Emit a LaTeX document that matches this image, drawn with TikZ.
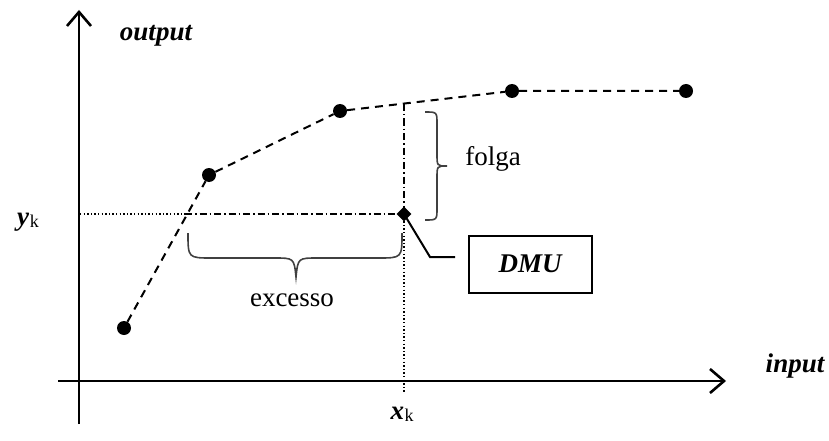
\documentclass[tikz,border=0pt]{standalone}
\usepackage{fontspec}
\setmainfont{Liberation Serif}
\usetikzlibrary{arrows.meta,shapes.geometric}
\tikzset{
  axis/.style={line width=2.6pt,-{Straight Barb[length=14pt,width=24pt,line width=2.6pt]}},
  frontier/.style={line width=2pt,dash pattern=on 8pt off 6pt},
  dotpt/.style={circle,fill=black,inner sep=0pt,minimum size=14pt},
  guide/.style={line width=1.4pt,dash pattern=on 1.4pt off 2.2pt},
  dashdotline/.style={line width=1.5pt,dash pattern=on 7pt off 3pt on 1.5pt off 3pt},
  bracestyle/.style={line width=1.6pt,draw=black!75},
  lbl/.style={font=\fontsize{27}{30}\selectfont,inner sep=0pt},
  axlbl/.style={font=\fontsize{27}{30}\selectfont\bfseries\itshape,inner sep=0pt},
  dmubox/.style={draw,line width=2pt,minimum width=123pt,minimum height=57pt,inner sep=0pt}
}
\begin{document}
\begin{tikzpicture}[x=1pt,y=-1pt]
\useasboundingbox (0,0) rectangle (829,441);

% axes
\coordinate (yb) at (79,424);
\coordinate (yt) at (79,10);
\coordinate (xl) at (58,381);
\coordinate (xr) at (726,381);
\draw[axis] (yb) -- (yt);
\draw[axis] (xl) -- (xr);

% axis labels
\node[axlbl] (outlbl) at (156,36) {output};
\node[axlbl] (inlbl) at (795,366) {input};
\node[lbl] (yk) at (28,222) {\textbf{\textit{y}}\kern0.5pt\raisebox{-2pt}{\fontsize{18}{20}\selectfont k}};
\node[lbl] (xk) at (402,414) {\textbf{\textit{x}}\kern0.5pt\raisebox{-2pt}{\fontsize{18}{20}\selectfont k}};

% efficient frontier points
\node[dotpt] (p1) at (124,328) {};
\node[dotpt] (p2) at (209,175) {};
\node[dotpt] (p3) at (340,111) {};
\node[dotpt] (p4) at (512,91) {};
\node[dotpt] (p5) at (686,91) {};
\draw[frontier] (p1) -- (p2) -- (p3) -- (p4) -- (p5);

% DMU under evaluation
\node[diamond,fill=black,inner sep=0pt,minimum size=15pt] (dmu) at (404,214) {};
\coordinate (ftop) at (404,104);
\coordinate (xfoot) at (404,392);
\coordinate (yfoot) at (80,214);
\coordinate (hcross) at (185,214);
\draw[dashdotline] (ftop) -- (dmu.center);
\draw[guide] (dmu.center) -- (xfoot);
\draw[guide] (yfoot) -- (hcross);
\draw[dashdotline] (hcross) -- (dmu.center);

% label box and its leader
\node[dmubox] (box) at (530,264) {\fontsize{27}{30}\selectfont\bfseries\itshape DMU};
\coordinate (bend) at (430,257);
\coordinate (lend) at (455,257);
\draw[line width=2pt] (dmu.center) -- (bend) -- (lend);

% slack brace (vertical)
\draw[bracestyle] (425,112) .. controls (437,112) .. (437,124) -- (437,154)
  .. controls (437,166) .. (447,166) .. controls (437,166) .. (437,178)
  -- (437,208) .. controls (437,220) .. (425,220);
\node[lbl] (folga) at (493,159) {folga};

% excess brace (horizontal)
\draw[bracestyle] (188,233) .. controls (188,258) .. (212,258) -- (274,258)
  .. controls (294,258) .. (296,277) .. controls (298,258) .. (318,258)
  -- (378,258) .. controls (402,258) .. (402,233);
\node[lbl] (excesso) at (292,300) {excesso};
\end{tikzpicture}
\end{document}
